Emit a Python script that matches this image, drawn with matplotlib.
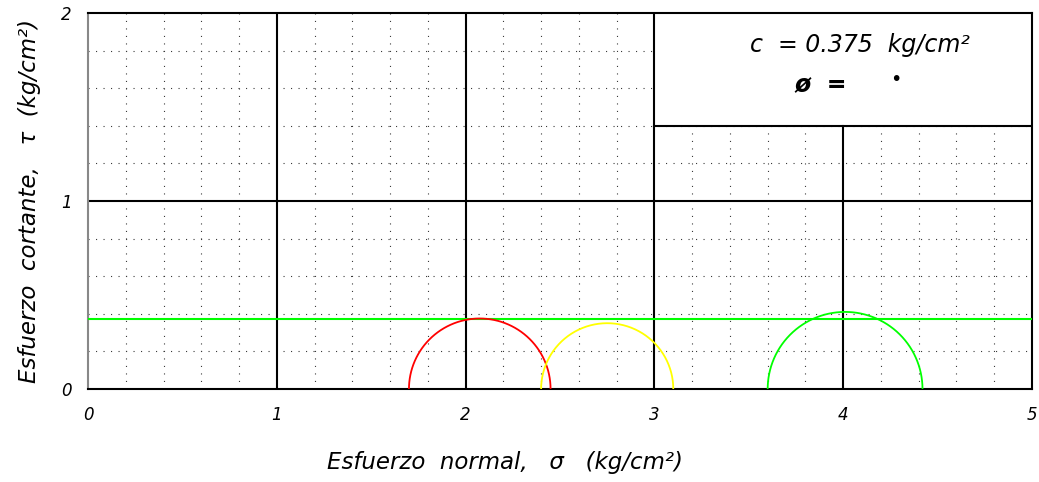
import numpy as np
import matplotlib
matplotlib.use("Agg")
import matplotlib.pyplot as plt

# Mohr circles (normal stress centre, radius) in kg/cm²
circle_centers = [2.075, 2.75, 4.01]
circle_radii = [0.375, 0.35, 0.41]
circle_colors = ["#ff0000", "#ffff00", "#00ff00"]

# Failure envelope: cohesion intercept
cohesion = 0.375
envelope_color = "#00ff00"

x_ticks = [0, 1, 2, 3, 4, 5]
y_ticks = [0, 1, 2]

plt.rcParams["font.family"] = ["DejaVu Sans"]

fig = plt.figure(figsize=(10.39, 4.82), dpi=100)
ax = fig.add_axes([88 / 1039, 93 / 482, 944 / 1039, 376 / 482])
ax.set_xlim(0, 5)
ax.set_ylim(0, 2)

# Boxed note region in the upper right corner
box_x0, box_y0 = 3.0, 1.4

# Minor dotted grid every 0.2, left out of the note box
dot_style = (0, (1.0, 5.75))
minor = np.round(np.arange(0.2, 5.0, 0.2), 6)
for xv in minor:
    if abs(xv - round(xv)) < 1e-6:
        continue
    top = box_y0 if xv > box_x0 else 2.0
    ax.plot([xv, xv], [0, top], color="#3a3a3a", lw=0.8, ls=dot_style, zorder=1)
for yv in np.round(np.arange(0.2, 2.0, 0.2), 6):
    if abs(yv - round(yv)) < 1e-6:
        continue
    right = box_x0 if yv > box_y0 else 5.0
    ax.plot([0, right], [yv, yv], color="#3a3a3a", lw=0.8, ls=dot_style, zorder=1)

# Major grid lines
for xv in [1, 2, 3]:
    ax.plot([xv, xv], [0, 2], color="black", lw=1.5, zorder=2)
ax.plot([4, 4], [0, box_y0], color="black", lw=1.5, zorder=2)
ax.plot([0, 5], [1, 1], color="black", lw=1.5, zorder=2)
ax.plot([box_x0, 5], [box_y0, box_y0], color="black", lw=1.5, zorder=2)

# Envelope line
ax.axhline(cohesion, color=envelope_color, lw=1.5, zorder=3)

# Semicircles
theta = np.linspace(0, np.pi, 300)
for c, r, col in zip(circle_centers, circle_radii, circle_colors):
    ax.plot(c + r * np.cos(theta), r * np.sin(theta), color=col, lw=1.3, zorder=4)

for s in ["top", "right", "bottom"]:
    ax.spines[s].set_linewidth(1.5)
    ax.spines[s].set_color("black")
ax.spines["left"].set_linewidth(1.5)
ax.spines["left"].set_color("#888888")

ax.set_xticks(x_ticks)
ax.set_yticks(y_ticks)
ax.set_xticklabels([str(v) for v in x_ticks], fontstyle="italic", fontsize=12)
ax.set_yticklabels([str(v) for v in y_ticks], fontstyle="italic", fontsize=12)
ax.tick_params(axis="both", length=0)
ax.tick_params(axis="x", pad=12)
ax.tick_params(axis="y", pad=12)

ax.set_xlabel("Esfuerzo  normal,   σ   (kg/cm²)", fontstyle="italic", fontsize=16.5, labelpad=20)
ax.xaxis.label.set_x(0.442)
ax.set_ylabel("Esfuerzo  cortante,   τ  (kg/cm²)", fontstyle="italic", fontsize=16.5, labelpad=14)

ax.text(4.09, 1.83, f"c  = {cohesion}  kg/cm²", fontstyle="italic", fontsize=17,
        ha="center", va="center", zorder=5)
ax.text(3.88, 1.615, "ø  =", fontstyle="italic", fontsize=17, fontweight="bold",
        ha="center", va="center", zorder=5)
ax.text(4.28, 1.645, "•", fontsize=14, ha="center", va="center", zorder=5)

fig.savefig("out.png", dpi=100)
